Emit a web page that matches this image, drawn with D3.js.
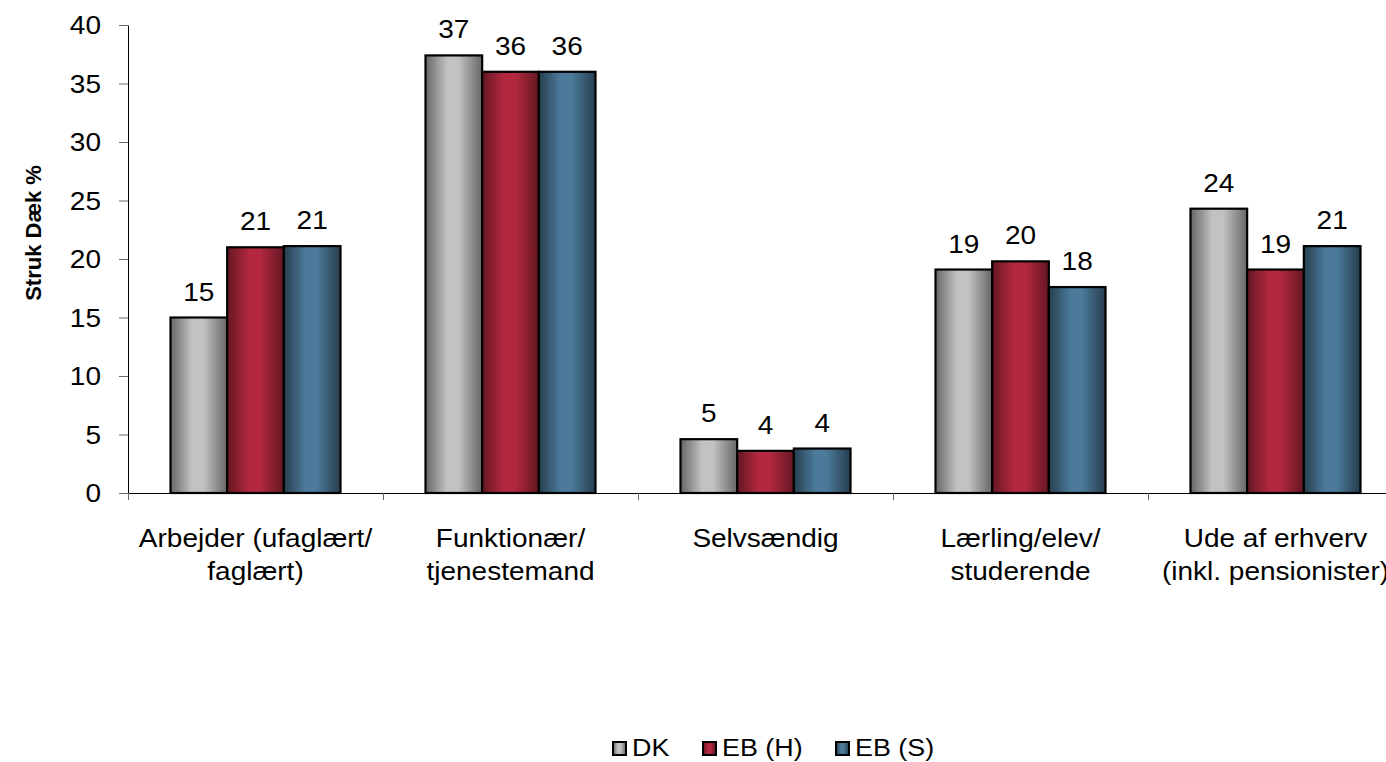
<!DOCTYPE html>
<html><head><meta charset="utf-8">
<script src="https://cdn.jsdelivr.net/npm/d3@7"></script>
<style>body{margin:0;background:#fff;} svg{display:block;font-family:"Liberation Sans",Arial,sans-serif;}</style>
</head><body>
<svg id="chart" width="1386" height="762"></svg>
<script>
const categories = [["Arbejder (ufaglært/","faglært)"],["Funktionær/","tjenestemand"],["Selvsændig"],["Lærling/elev/","studerende"],["Ude af erhverv","(inkl. pensionister)"]];
const seriesNames = ["DK","EB (H)","EB (S)"];
const dk  = [15.0, 37.4, 4.6, 19.1, 24.3];
const ebH = [21.0, 36.0, 3.6, 19.8, 19.1];
const ebS = [21.1, 36.0, 3.8, 17.6, 21.1];
const yTicks = [0,5,10,15,20,25,30,35,40];
const colors = [["#666666","#c2c2c2"],["#641722","#b3283f"],["#273e4d","#4b7a9b"]];

const FS = 25, SX = 1.12;
const series = [dk, ebH, ebS];
const svg = d3.select("#chart");
const m = {left:128, top:25, bottom:493, right:1403};
const x0 = d3.scaleBand().domain(d3.range(categories.length)).range([m.left, m.right]).paddingInner(0).paddingOuter(0);
const x1 = d3.scaleBand().domain(d3.range(3)).range([0, x0.bandwidth()]).paddingOuter(0.75).paddingInner(0);
const y = d3.scaleLinear().domain([0,40]).range([m.bottom, m.top]);

function stext(x, yy, str, anchor, size){
  const g = svg.append("g").attr("transform",`translate(${x},${yy}) scale(${SX},1)`);
  return g.append("text").attr("x",0).attr("y",0).attr("text-anchor",anchor||"middle")
    .attr("font-size",size||FS).attr("fill","#000").text(str);
}

const defs = svg.append("defs");
colors.forEach((c,i)=>{
  const g = defs.append("linearGradient").attr("id","g"+i).attr("x1","0").attr("x2","1").attr("y1","0").attr("y2","0");
  g.append("stop").attr("offset","0%").attr("stop-color",c[0]);
  g.append("stop").attr("offset","38%").attr("stop-color",c[1]);
  g.append("stop").attr("offset","58%").attr("stop-color",c[1]);
  g.append("stop").attr("offset","100%").attr("stop-color",c[0]);
});

// y axis
const yAxis = d3.axisLeft(y).tickValues(yTicks).tickSize(9).tickSizeOuter(0).tickFormat("");
const ya = svg.append("g").attr("transform",`translate(${m.left},0)`).call(yAxis);
ya.select(".domain").attr("stroke","#000").attr("stroke-width",1);
ya.selectAll(".tick line").attr("stroke","#666");
yTicks.forEach(t=>stext(101, y(t)+9, String(t), "end"));

// x axis baseline with category boundary ticks
const xa = svg.append("g");
xa.append("line").attr("x1",m.left).attr("x2",m.right).attr("y1",y(0)+0.5).attr("y2",y(0)+0.5).attr("stroke","#000");
d3.range(categories.length+1).forEach(i=>{
  const xx = i<categories.length ? x0(i) : m.right;
  xa.append("line").attr("x1",xx+0.5).attr("x2",xx+0.5).attr("y1",y(0)).attr("y2",y(0)+7).attr("stroke","#666");
});

// bars
categories.forEach((c,ci)=>{
  series.forEach((s,si)=>{
    const bx = x0(ci)+x1(si);
    svg.append("rect").attr("x",bx).attr("y",y(s[ci])).attr("width",x1.bandwidth()).attr("height",y(0)-y(s[ci]))
      .attr("fill",`url(#g${si})`).attr("stroke","#000").attr("stroke-width",2.2);
    stext(bx+x1.bandwidth()/2, y(s[ci])-17, d3.format(".0f")(s[ci]));
  });
  c.forEach((line,li)=>stext(x0(ci)+x0.bandwidth()/2, 547+li*33, line));
});

// y title
svg.append("text").attr("transform","translate(41,233) rotate(-90)").attr("text-anchor","middle")
  .attr("font-size",22).attr("font-weight","bold").text("Struk Dæk %");

// legend
const legX = [612, 702, 835];
seriesNames.forEach((n,i)=>{
  svg.append("rect").attr("x",legX[i]+1).attr("y",742).attr("width",13).attr("height",13)
    .attr("fill",`url(#g${i})`).attr("stroke","#000").attr("stroke-width",2);
  stext(legX[i]+20, 756, n, "start", 24);
});
</script>
</body></html>
